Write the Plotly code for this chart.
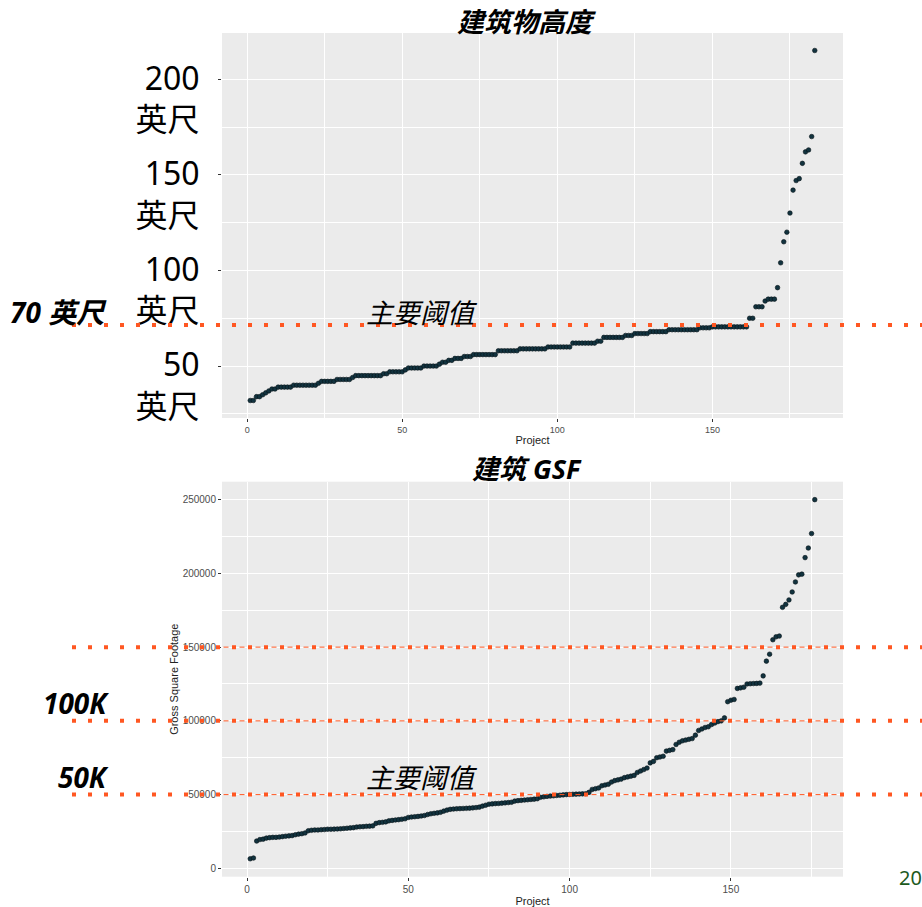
import plotly.graph_objects as go

# ---------------- data ----------------
heights = [32, 32, 34, 34, 35, 36, 37, 38, 38,
           39, 39, 39, 39, 39,
           40, 40, 40, 40, 40, 40, 40, 40,
           41,
           42, 42, 42, 42, 42,
           43, 43, 43, 43, 43,
           44,
           45, 45, 45, 45, 45, 45, 45, 45, 45,
           46, 46,
           47, 47, 47, 47, 47,
           48,
           49, 49, 49, 49, 49,
           50, 50, 50, 50, 50,
           51, 52,
           52, 53, 53,
           54, 54, 54,
           55, 55, 55,
           56, 56, 56, 56, 56, 56, 56, 56,
           58, 58, 58, 58, 58, 58, 58,
           59, 59, 59, 59, 59, 59, 59, 59, 59,
           60, 60, 60, 60, 60, 60, 60, 60,
           62, 62, 62, 62, 62, 62, 62, 62,
           63, 63,
           65, 65, 65, 65, 65, 65, 65,
           66, 66, 66,
           67, 67, 67, 67, 67,
           68, 68, 68, 68, 68, 68,
           69, 69, 69, 69, 69, 69, 69, 69, 69, 69,
           70, 70, 70, 70,
           70.5, 70.5, 70.5, 70.5, 70.5, 70.5, 70.5, 70.5, 70.5, 70.5, 70.5, 70.5,
           75, 75,
           81, 81, 81,
           84,
           85, 85, 85,
           91, 104, 115, 120, 130, 142, 147, 148, 156, 162, 163, 170, 215]

gsf = [6500, 7000,
       18500,
       19500, 19800,
       20500, 20800, 21000, 21000, 21200, 21500,
       21800, 22000, 22200,
       22800, 23200, 23500, 24000,
       25500, 25800, 26000, 26000, 26200, 26300,
       26500, 26500, 26600, 26700, 26800, 27000, 27200, 27400, 27600,
       28000, 28200, 28300, 28500, 28600, 28800,
       30500, 31000, 31200, 31500,
       32200, 32500, 32800, 33000, 33300, 33600,
       34500, 34800, 35000, 35200, 35500, 35800,
       36500, 37000, 37300, 37600, 38000,
       38800, 39500,
       40000, 40200, 40400, 40500, 40600, 40700, 40800, 41000, 41200, 41500,
       42200, 42800,
       43500, 43700, 43900, 44000, 44200, 44400, 44600, 44800,
       45600, 45900, 46100, 46300, 46500, 46700, 46900, 47200,
       48200, 48500, 48800, 49000, 49200, 49400, 49600, 49800,
       50000, 50100, 50200, 50300, 50400, 50500, 50600,
       51500,
       53500, 54000, 54500,
       56000, 56500, 57000,
       58500, 59500, 60000, 60500,
       61500, 62000, 62500, 63000,
       65000, 66000,
       67000, 68000,
       71500, 72500,
       75000, 75500, 76000,
       79500, 80000, 80500,
       84000, 85500, 86500, 87000, 87500, 88000,
       90300,
       93500, 94500, 95500, 96000,
       97500, 98500, 99500, 100000,
       102000,
       113000, 114000, 114500,
       122000, 122400, 122800,
       125000, 125200, 125300, 125400, 125600,
       130500, 140500, 145200,
       155000, 157000, 157500,
       177000, 179000, 182000,
       187400, 194200, 199000, 199500, 210700, 217200, 227000, 250000]

proj_h = list(range(1, len(heights) + 1))
proj_g = list(range(1, len(gsf) + 1))

height_ticks = [50, 100, 150, 200]
height_ticktext = ["50<br>英尺", "100<br>英尺", "150<br>英尺", "200<br>英尺"]
gsf_thresholds = [50000, 100000, 150000]
gsf_threshold_labels = ["50K", "100K"]
height_threshold_label = "70 英尺"

# ---------------- style ----------------
W, H = 922, 907
PANEL_L, PANEL_R = 222, 843
TOP_T, TOP_B = 33, 418
BOT_T, BOT_B = 481.7, 876.7
ORANGE = "#FF5722"
PT = "#12333f"
CJK = "Noto Sans, Noto Sans CJK SC, sans-serif"
SMALL = "Liberation Sans, Arial, sans-serif"


def px_x(v):
    return v / W


def px_y(v):
    return 1 - v / H


def expand(vals, f=0.05):
    lo, hi = min(vals), max(vals)
    d = (hi - lo) * f
    return [lo - d, hi + d]


fig = go.Figure()
fig.add_trace(go.Scatter(x=proj_h, y=heights, mode="markers", xaxis="x", yaxis="y",
                         marker=dict(size=4.6, color=PT, line=dict(width=0.6, color="#051015")),
                         hoverinfo="skip"))
fig.add_trace(go.Scatter(x=proj_g, y=gsf, mode="markers", xaxis="x2", yaxis="y2",
                         marker=dict(size=4.6, color=PT, line=dict(width=0.6, color="#051015")),
                         hoverinfo="skip"))

common = dict(showgrid=True, gridcolor="white", gridwidth=1.1, zeroline=False,
              showline=False, ticks="outside", ticklen=3, tickwidth=1,
              tickcolor="#333333", automargin=False)

xdom = [px_x(PANEL_L), px_x(PANEL_R)]
minor_x = dict(dtick=25, tick0=0, showgrid=True, gridcolor="white", gridwidth=0.5, ticks="")

fig.update_layout(
    width=W, height=H,
    margin=dict(l=0, r=0, t=0, b=0),
    paper_bgcolor="white", plot_bgcolor="#EBEBEB",
    showlegend=False,
    xaxis=dict(common, domain=xdom, anchor="y", range=expand(proj_h),
               dtick=50, tick0=0, minor=minor_x,
               tickfont=dict(family=SMALL, size=9, color="#4D4D4D"),
               title=dict(text="Project", font=dict(family=SMALL, size=11, color="#222222"), standoff=2)),
    yaxis=dict(common, domain=[px_y(TOP_B), px_y(TOP_T)], anchor="x", range=expand(heights),
               tickvals=height_ticks, ticktext=height_ticktext,
               minor=dict(dtick=25, tick0=0, showgrid=True, gridcolor="white", gridwidth=0.5, ticks=""),
               tickfont=dict(family=CJK, size=32, color="black"),
               ticklabelstandoff=12, ticklabelshift=20),
    xaxis2=dict(common, domain=xdom, anchor="y2", range=expand(proj_g),
                dtick=50, tick0=0, minor=minor_x,
                tickfont=dict(family=SMALL, size=10, color="#4D4D4D"),
                title=dict(text="Project", font=dict(family=SMALL, size=11, color="#222222"), standoff=3)),
    yaxis2=dict(common, domain=[px_y(BOT_B), px_y(BOT_T)], anchor="x2", range=expand(gsf),
                dtick=50000, tick0=0, tickformat="d",
                minor=dict(dtick=25000, tick0=0, showgrid=True, gridcolor="white", gridwidth=0.5, ticks=""),
                tickfont=dict(family=SMALL, size=10, color="#4D4D4D"),
                ticklabelstandoff=0,
                title=dict(text="Gross Square Footage", font=dict(family=SMALL, size=11, color="#222222"), standoff=1)),
)

shapes = []
# thin dashed threshold lines inside the lower panel
for t in gsf_thresholds:
    shapes.append(dict(type="line", xref="x2 domain", x0=0, x1=1, yref="y2", y0=t, y1=t,
                       line=dict(color=ORANGE, width=1, dash="0px,1.5px,5px,9.5px"), layer="above"))
# heavy dotted overlay lines extending across the page
for t in gsf_thresholds:
    shapes.append(dict(type="line", xref="paper", x0=px_x(72), x1=1.02, yref="y2", y0=t, y1=t,
                       line=dict(color=ORANGE, width=4, dash="4px,12px"), layer="above"))
shapes.append(dict(type="line", xref="paper", x0=px_x(72), x1=1.02, yref="y", y0=71.5, y1=71.5,
                   line=dict(color=ORANGE, width=4, dash="4px,12px"), layer="above"))
fig.update_layout(shapes=shapes)

ann = []
ann.append(dict(text="<b><i>建筑物高度</i></b>", xref="paper", yref="paper", x=px_x(526), y=px_y(22),
                showarrow=False, font=dict(family=CJK, size=27, color="black"), xanchor="center", yanchor="middle"))
ann.append(dict(text="<b><i>建筑 GSF</i></b>", xref="paper", yref="paper", x=px_x(527), y=px_y(468),
                showarrow=False, font=dict(family=CJK, size=27, color="black"), xanchor="center", yanchor="middle"))
ann.append(dict(text="<b><i>" + height_threshold_label + "</i></b>", xref="paper", yref="paper",
                x=px_x(109), y=px_y(312), showarrow=False,
                font=dict(family=CJK, size=28, color="black"), xanchor="right", yanchor="middle"))
for yy in (312, 777):
    ann.append(dict(text="<i>主要阈值</i>", xref="paper", yref="paper", x=px_x(364), y=px_y(yy),
                    showarrow=False, font=dict(family=CJK, size=27, color="black"),
                    xanchor="left", yanchor="middle"))
for lab, yy in zip(gsf_threshold_labels, (777, 703)):
    ann.append(dict(text="<b><i>" + lab + "</i></b>", xref="paper", yref="paper", x=px_x(111), y=px_y(yy),
                    showarrow=False, font=dict(family=CJK, size=28, color="black"),
                    xanchor="right", yanchor="middle"))
ann.append(dict(text="20", xref="paper", yref="paper", x=px_x(897), y=px_y(877), showarrow=False,
                font=dict(family=CJK, size=20, color="#1d5a1d"), xanchor="left", yanchor="middle"))
fig.update_layout(annotations=ann)

fig.write_html("out.html", config={"displayModeBar": False},
               post_script="document.body.style.margin='0';document.body.style.overflow='hidden';")
